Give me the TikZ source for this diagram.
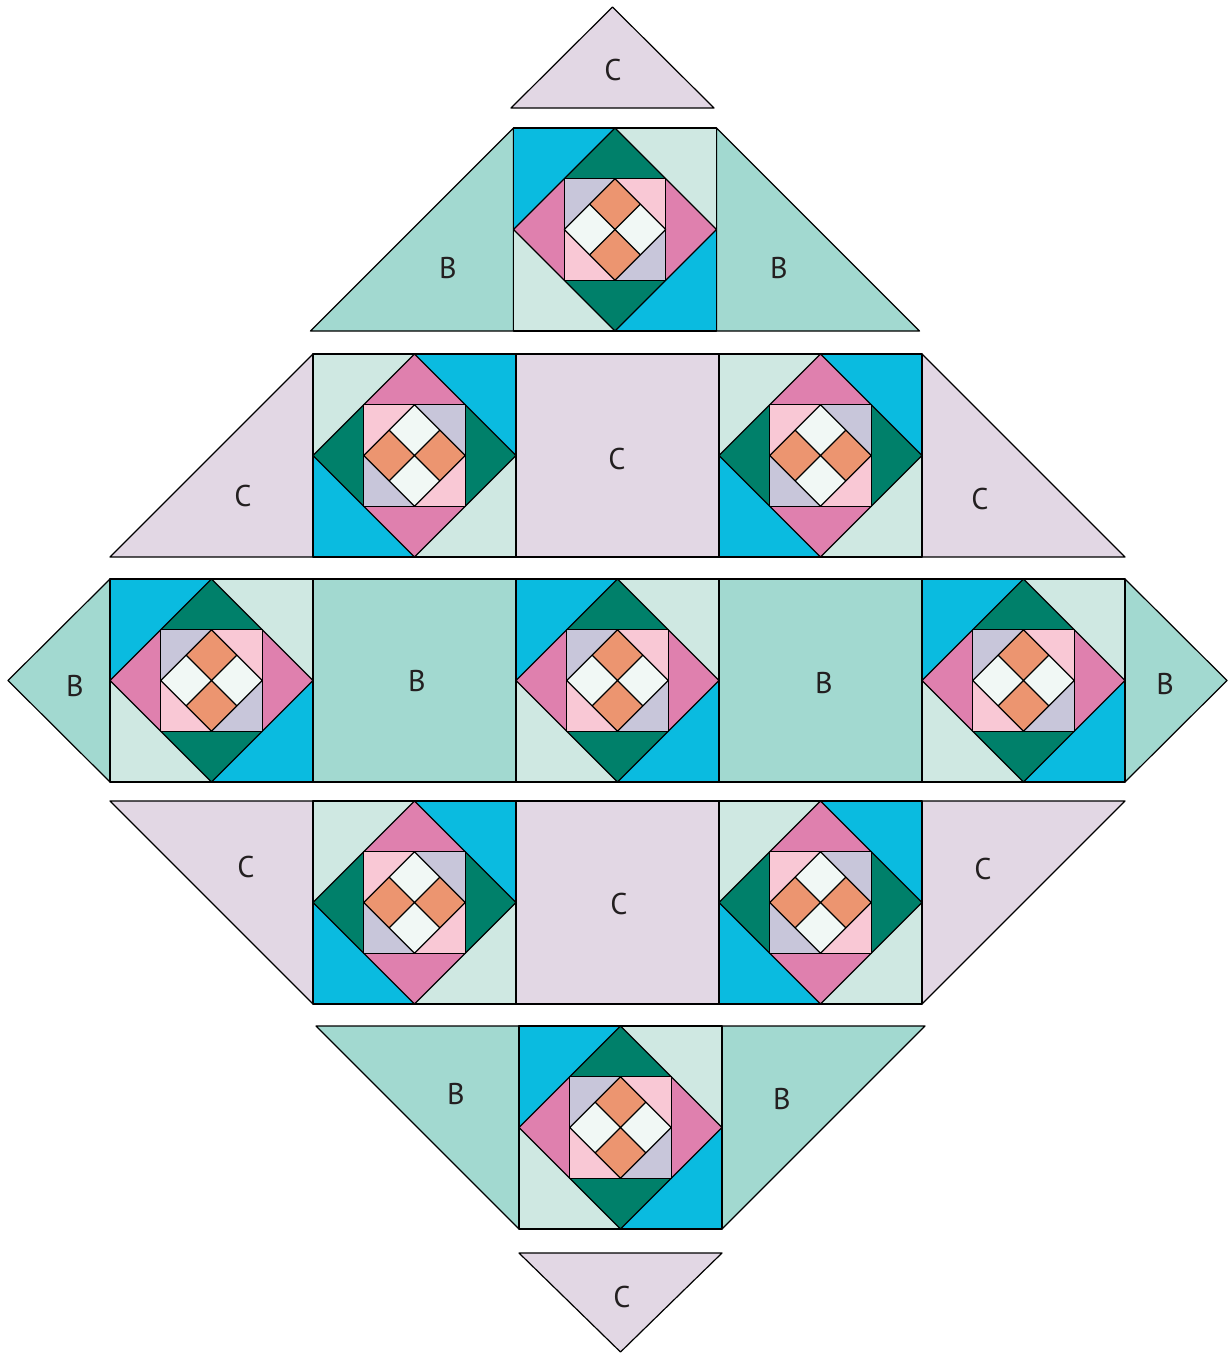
\documentclass[tikz,border=0pt]{standalone}
\usepackage{fontspec}
\setmainfont{PT Sans}
\definecolor{qcyan}{HTML}{0ABBE0}
\definecolor{qmint}{HTML}{CFE8E2}
\definecolor{qteal}{HTML}{A2D9D0}
\definecolor{qlilac}{HTML}{E2D7E4}
\definecolor{qgreen}{HTML}{00806A}
\definecolor{qpink}{HTML}{DF80AE}
\definecolor{qlpink}{HTML}{F9C8D5}
\definecolor{qlav}{HTML}{C8C6DA}
\definecolor{qorange}{HTML}{EC9570}
\definecolor{qwhite}{HTML}{F1F8F5}
\definecolor{qtext}{HTML}{231F20}
\tikzset{
  patch/.style={draw=black, line width=1.2pt, line join=round},
  bpiece/.style={patch, fill=qteal},
  cpiece/.style={patch, fill=qlilac},
  lbl/.style={text=qtext, font=\fontsize{30}{30}\selectfont, inner sep=0pt}
}
\newcommand{\qblockgen}[8]{%
  \fill[#3] (0,0) -- (2,0) -- (0,2) -- cycle;
  \fill[#4] (2,0) -- (4,0) -- (4,2) -- cycle;
  \fill[#4] (0,2) -- (0,4) -- (2,4) -- cycle;
  \fill[#3] (4,2) -- (4,4) -- (2,4) -- cycle;
  \fill[#5] (2,0) -- (1,1) -- (3,1) -- cycle;
  \fill[#5] (1,3) -- (3,3) -- (2,4) -- cycle;
  \fill[#6] (0,2) -- (1,1) -- (1,3) -- cycle;
  \fill[#6] (4,2) -- (3,1) -- (3,3) -- cycle;
  \fill[#7] (1,1) -- (2,1) -- (1,2) -- cycle;
  \fill[#8] (2,1) -- (3,1) -- (3,2) -- cycle;
  \fill[#8] (1,2) -- (1,3) -- (2,3) -- cycle;
  \fill[#7] (3,2) -- (3,3) -- (2,3) -- cycle;
  \qinner
  \draw[patch] (0,0) rectangle (4,4);
  \draw[patch] (2,0) -- (4,2) -- (2,4) -- (0,2) -- cycle;
  \draw[patch] (1,1) rectangle (3,3);
  \draw[patch] (2,1) -- (3,2) -- (2,3) -- (1,2) -- cycle;
  \draw[patch] (1.5,1.5) -- (2.5,2.5) (2.5,1.5) -- (1.5,2.5);
}
\newcommand{\qblockA}[2]{%
  \begin{scope}[shift={(#1,#2)}, x=50.75pt, y=-50.75pt]
    \def\qinner{%
      \fill[qorange] (2,1) -- (2.5,1.5) -- (2,2) -- (1.5,1.5) -- cycle;
      \fill[qorange] (2,2) -- (2.5,2.5) -- (2,3) -- (1.5,2.5) -- cycle;
      \fill[qwhite] (1,2) -- (1.5,1.5) -- (2,2) -- (1.5,2.5) -- cycle;
      \fill[qwhite] (3,2) -- (2.5,1.5) -- (2,2) -- (2.5,2.5) -- cycle;}
    \qblockgen{#1}{#2}{qcyan}{qmint}{qgreen}{qpink}{qlav}{qlpink}
  \end{scope}}
\newcommand{\qblockB}[2]{%
  \begin{scope}[shift={(#1,#2)}, x=50.75pt, y=-50.75pt]
    \def\qinner{%
      \fill[qwhite] (2,1) -- (2.5,1.5) -- (2,2) -- (1.5,1.5) -- cycle;
      \fill[qwhite] (2,2) -- (2.5,2.5) -- (2,3) -- (1.5,2.5) -- cycle;
      \fill[qorange] (1,2) -- (1.5,1.5) -- (2,2) -- (1.5,2.5) -- cycle;
      \fill[qorange] (3,2) -- (2.5,1.5) -- (2,2) -- (2.5,2.5) -- cycle;}
    \qblockgen{#1}{#2}{qmint}{qcyan}{qpink}{qgreen}{qlpink}{qlav}
  \end{scope}}
\begin{document}
\begin{tikzpicture}[x=1pt, y=-1pt]
\useasboundingbox (0,0) rectangle (1231,1353);
% ---- top C
\draw[cpiece] (511,108) -- (612.5,7) -- (714,108) -- cycle;
\node[lbl] (c0) at (613,70) {C};
% ---- row 1
\draw[bpiece] (310.5,331) -- (513.5,128) -- (513.5,331) -- cycle;
\draw[bpiece] (716.5,128) -- (716.5,331) -- (919.5,331) -- cycle;
\qblockA{513.5}{128}
\node[lbl] (b11) at (448,268) {B};
\node[lbl] (b12) at (779,268) {B};
% ---- row 2
\draw[cpiece] (110,557) -- (313,354) -- (313,557) -- cycle;
\draw[cpiece] (516,354) rectangle (719,557);
\draw[cpiece] (922,354) -- (922,557) -- (1125,557) -- cycle;
\qblockB{313}{354}
\qblockB{719}{354}
\node[lbl] (c21) at (243,496) {C};
\node[lbl] (c22) at (617,459) {C};
\node[lbl] (c23) at (980,499) {C};
% ---- row 3
\draw[bpiece] (110,579) -- (8,680.5) -- (110,782) -- cycle;
\draw[bpiece] (313,579) rectangle (516,782);
\draw[bpiece] (719,579) rectangle (922,782);
\draw[bpiece] (1125,579) -- (1227,680.5) -- (1125,782) -- cycle;
\qblockA{110}{579}
\qblockA{516}{579}
\qblockA{922}{579}
\node[lbl] (b31) at (75,686) {B};
\node[lbl] (b32) at (417,681) {B};
\node[lbl] (b33) at (824,683) {B};
\node[lbl] (b34) at (1165,684) {B};
% ---- row 4
\draw[cpiece] (110,801) -- (313,801) -- (313,1004) -- cycle;
\draw[cpiece] (516,801) rectangle (719,1004);
\draw[cpiece] (922,801) -- (1125,801) -- (922,1004) -- cycle;
\qblockB{313}{801}
\qblockB{719}{801}
\node[lbl] (c41) at (246,867) {C};
\node[lbl] (c42) at (619,904) {C};
\node[lbl] (c43) at (983,869) {C};
% ---- row 5
\draw[bpiece] (316,1026) -- (519,1026) -- (519,1229) -- cycle;
\draw[bpiece] (722,1026) -- (925,1026) -- (722,1229) -- cycle;
\qblockA{519}{1026}
\node[lbl] (b51) at (456,1094) {B};
\node[lbl] (b52) at (782,1099) {B};
% ---- bottom C
\draw[cpiece] (519,1253) -- (722,1253) -- (620.5,1352) -- cycle;
\node[lbl] (c6) at (622,1297) {C};
\end{tikzpicture}
\end{document}
